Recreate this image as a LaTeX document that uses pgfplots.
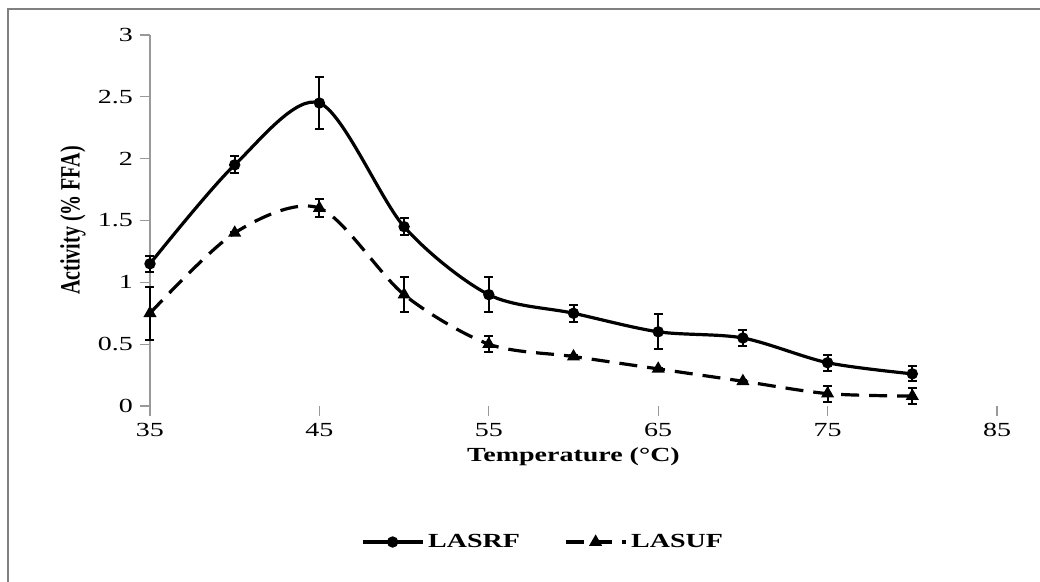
\documentclass[border=0pt]{standalone}
\usepackage{pgfplots}
\usepackage{pgfplotstable}
\pgfplotsset{compat=1.18}
\usepackage{fontspec}
\setmainfont{Liberation Serif}[FakeStretch=1.4]
\newfontfamily\plainserif{Liberation Serif}
\pgfplotstableread{
x y e
35 1.15 0.065
40 1.95 0.07
45 2.45 0.21
50 1.45 0.067
55 0.90 0.14
60 0.75 0.07
65 0.60 0.14
70 0.55 0.067
75 0.35 0.065
80 0.26 0.06
}\lasrf
\pgfplotstableread{
x y e
35 0.75 0.215
40 1.40 0.01
45 1.60 0.07
50 0.90 0.14
55 0.50 0.067
60 0.40 0.01
65 0.30 0.01
70 0.20 0.01
75 0.10 0.065
80 0.08 0.065
}\lasuf
\begin{document}
\begin{tikzpicture}
\begin{axis}[
  at={(0,0)}, anchor=south west,
  scale only axis, width=423.5pt, height=185.5pt,
  xmin=35, xmax=85, ymin=0, ymax=3,
  xtick={35,45,55,65,75,85}, ytick={0,0.5,1,1.5,2,2.5,3},
  axis lines=left, axis line style={-},
  x axis line style={draw=none},
  y axis line style={draw=black!40, line width=0.6pt},
  tick align=outside, major tick length=5pt,
  tick style={draw=black!40, line width=0.6pt},
  every tick label/.append style={font=\fontsize{10}{12}\selectfont},
  /pgf/number format/assume math mode=true,
  xlabel={Temperature (°C)},
  ylabel={\plainserif\bfseries Activity (\% FFA)},
  label style={font=\fontsize{10}{12}\selectfont\bfseries},
  xlabel style={at={(axis description cs:0.5,-0.1375)}, anchor=center},
  ylabel style={at={(axis description cs:-0.0909,0.5)}, anchor=center, rotate=-90, xscale=1.4, rotate=90},
  clip=false,
  legend columns=2,
  legend style={draw=none, fill=none, at={(axis description cs:0.4652,-0.3666)}, anchor=center,
    font=\fontsize{10}{12}\selectfont\bfseries,
    /tikz/every even column/.append style={column sep=20pt}},
  legend image code/.code={\draw[mark repeat=2,mark phase=2,#1] plot coordinates {(0pt,0pt) (15pt,0pt) (30pt,0pt)};},
]
\addplot[black, line width=1.6pt, smooth, mark=*, mark size=2pt, mark options={solid},
  error bars/.cd, y dir=both, y explicit,
  error bar style={line width=1pt, solid, black},
  error mark options={rotate=90, mark size=2.25pt, line width=1pt, solid}]
  table[x=x, y=y, y error=e] {\lasrf};
\addlegendentry{LASRF}
\addplot[black, line width=1.6pt, smooth, dash pattern=on 9pt off 5pt, mark=triangle*, mark size=2.2pt, mark options={solid},
  error bars/.cd, y dir=both, y explicit,
  error bar style={line width=1pt, solid, black},
  error mark options={rotate=90, mark size=2.25pt, line width=1pt, solid}]
  table[x=x, y=y, y error=e] {\lasuf};
\addlegendentry{LASUF}
\end{axis}
\draw[black!50, line width=1pt] (-71pt,-88pt) -- (-71pt,198.5pt) -- (445pt,198.5pt);
\pgfresetboundingbox
\path (-75pt,-88pt) rectangle (445pt,203pt);
\end{tikzpicture}
\end{document}
